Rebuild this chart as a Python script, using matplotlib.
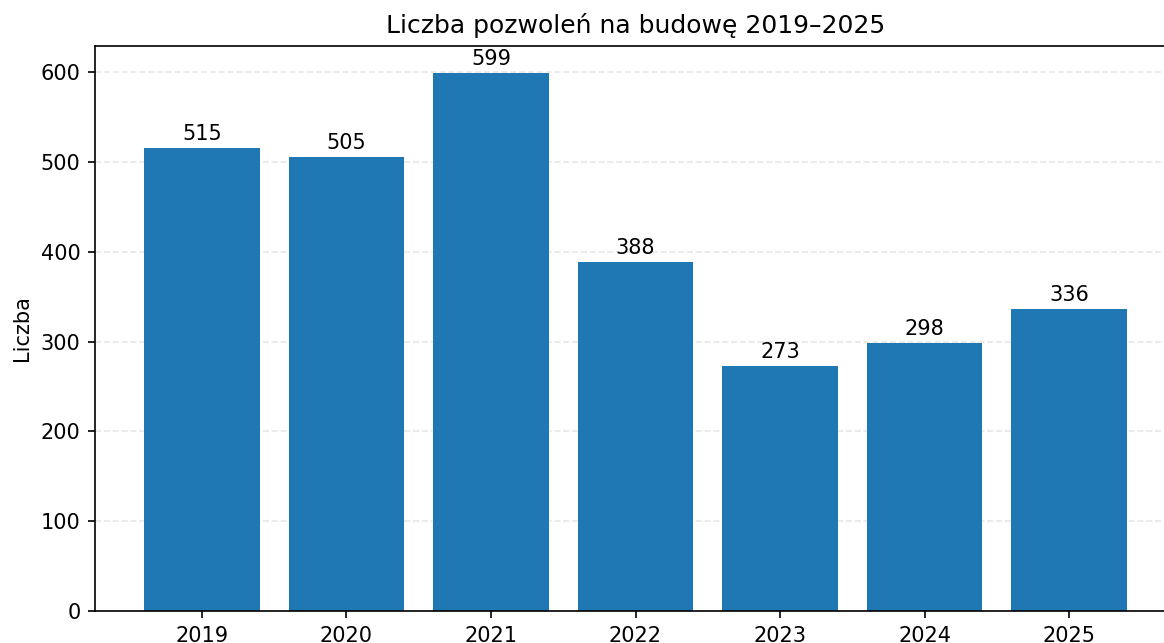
import matplotlib
matplotlib.use("Agg")
import matplotlib.pyplot as plt

years = ["2019", "2020", "2021", "2022", "2023", "2024", "2025"]
permits = [515, 505, 599, 388, 273, 298, 336]

W, H, DPI = 1164, 643, 150
fig = plt.figure(figsize=(W / DPI, H / DPI), dpi=DPI)
ax = fig.add_axes([95 / W, (H - 611) / H, 1081 / W, 565 / H])

bars = ax.bar(years, permits, width=0.8, color="#1f77b4")
ax.bar_label(bars, labels=[str(v) for v in permits], padding=2)

ax.set_ylim(0, max(permits) * 1.05)
ax.set_title("Liczba pozwoleń na budowę 2019–2025")
ax.set_ylabel("Liczba")
ax.yaxis.grid(True, linestyle="--", alpha=0.3)
ax.set_axisbelow(True)

fig.savefig("out.png", dpi=DPI)
